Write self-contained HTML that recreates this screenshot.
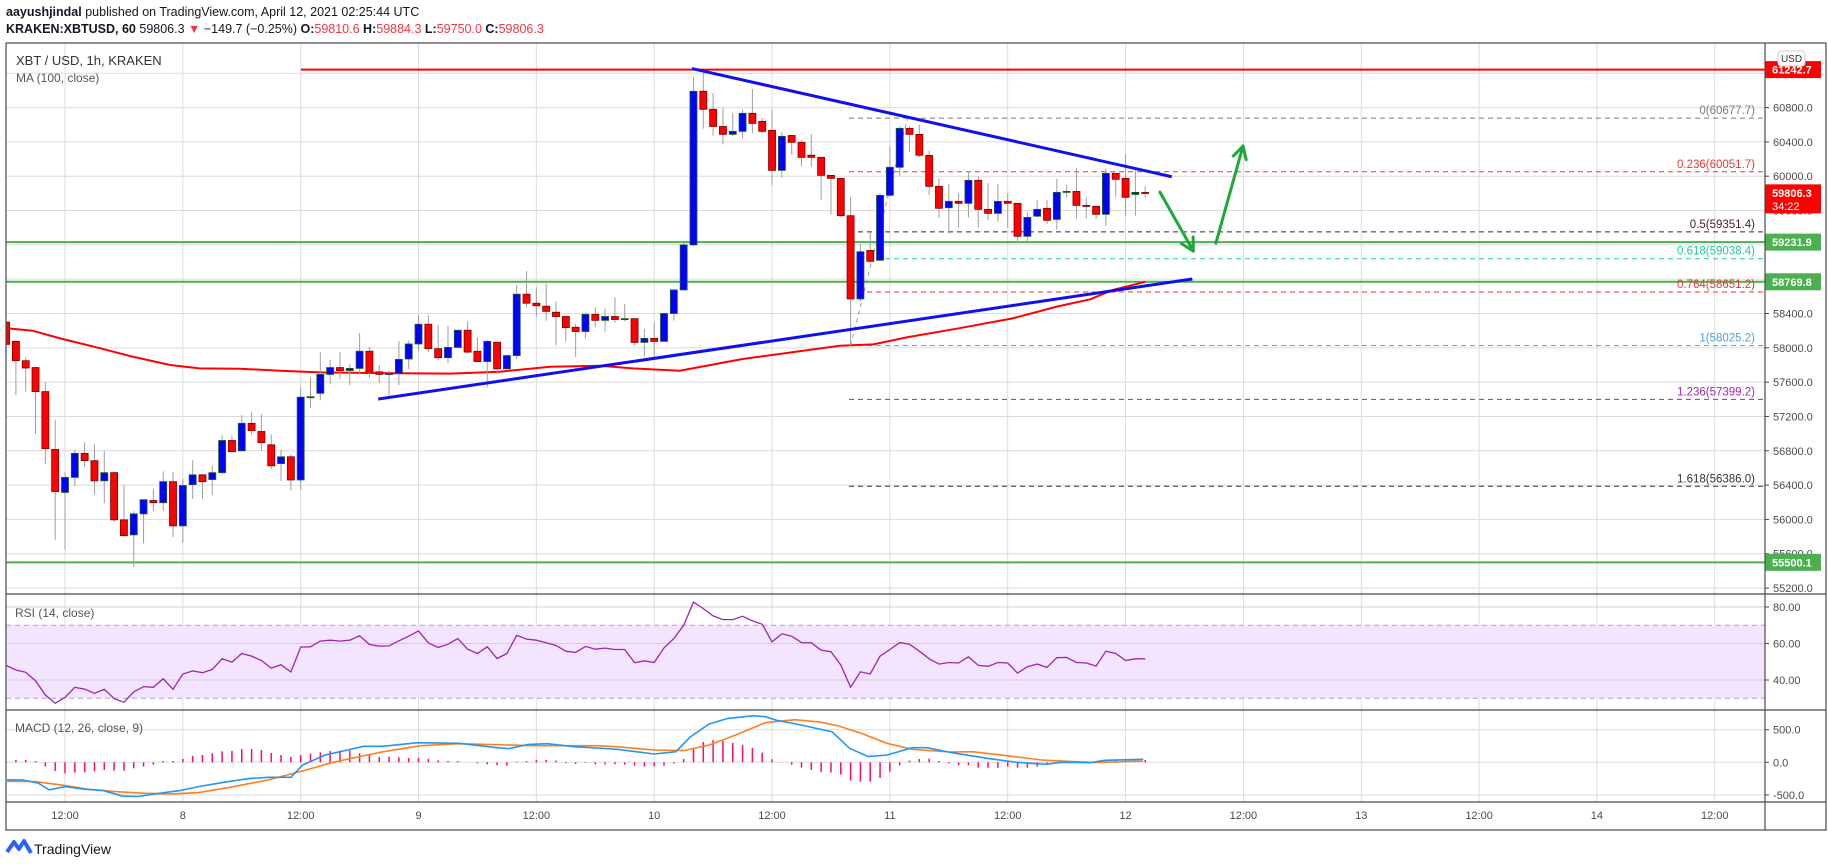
<!DOCTYPE html>
<html><head><meta charset="utf-8"><style>
html,body{margin:0;padding:0;background:#fff;}
body{width:1828px;height:867px;overflow:hidden;font-family:"Liberation Sans",sans-serif;}
#hdr1,#hdr2{position:absolute;left:6px;font-size:12.5px;color:#131722;white-space:nowrap;}
#hdr1{top:5px;}#hdr2{top:22px;}
.r{color:#f23645;}
svg{position:absolute;left:0;top:0;}
text{font-family:"Liberation Sans",sans-serif;}
</style></head><body>
<div id="hdr1"><b>aayushjindal</b> published on TradingView.com, April 12, 2021 02:25:44 UTC</div>
<div id="hdr2"><b>KRAKEN:XBTUSD, 60</b> 59806.3 <span class="r">▼</span> −149.7 (−0.25%) <b>O:</b><span class="r">59810.6</span> <b>H:</b><span class="r">59884.3</span> <b>L:</b><span class="r">59750.0</span> <b>C:</b><span class="r">59806.3</span></div>
<svg id="chart" width="1828" height="867" xmlns="http://www.w3.org/2000/svg">
<defs>
<clipPath id="cMain"><rect x="6" y="43" width="1759" height="551"/></clipPath>
<clipPath id="cRsi"><rect x="6" y="594" width="1759" height="116"/></clipPath>
<clipPath id="cMacd"><rect x="6" y="710" width="1759" height="92"/></clipPath>
</defs>
<g id="grid"></g>
<g id="main" clip-path="url(#cMain)"></g>
<g id="rsi" clip-path="url(#cRsi)"></g>
<g id="macd" clip-path="url(#cMacd)"></g>
<g id="axes"></g>
<g id="frame" fill="none" stroke="#4a4a4a" stroke-width="1.2">
<rect x="6" y="43" width="1820" height="787"/>
<line x1="1765" y1="43" x2="1765" y2="830"/>
<line x1="6" y1="594" x2="1826" y2="594"/>
<line x1="6" y1="710" x2="1826" y2="710"/>
<line x1="6" y1="802" x2="1826" y2="802"/>
</g>
<g>
<path d="M7 852 L14 842 L19 849 L24 841 L31 853" fill="none" stroke="#2962ff" stroke-width="4" stroke-linejoin="round"/>
<text x="34" y="854" font-size="14" fill="#131722">TradingView</text>
</g>
</svg>
<script>
// ---------- data ----------
const candleStartHour = 6; // Apr 7 06:00, hours since Apr 7 00:00
const opens  = [58300,58075,57850,57770,57490,56815,56315,56490,56770,56685,56450,56545,55995,55820,56065,56220,56195,56440,55925,56405,56520,56465,56545,56920,56800,57120,57025,56870,56650,56730,56460,57430,57470,57690,57770,57735,57760,57960,57720,57700,57700,57870,58045,58275,57990,57885,58005,58205,57960,57840,58065,57755,57910,58625,58520,58485,58415,58365,58240,58190,58390,58320,58365,58340,58340,58063,58110,58075,58400,58675,59200,60990,60780,60580,60488,60523,60733,60640,60535,60068,60475,60395,60245,60220,60010,59975,59540,58570,59135,59020,59777,60104,60558,60488,60243,59882,59633,59707,59684,59952,59614,59567,59707,59684,59300,59534,59626,59497,59823,59823,59660,59650,59556,60034,59975,59788,59810.6];
const highs  = [58300,58090,57890,57785,57600,57160,56555,56815,56900,56875,56800,56560,56400,56095,56230,56360,56560,56550,56470,56690,56520,56625,56980,56980,57215,57250,57225,56990,56815,56760,57535,57655,57950,57860,57950,57810,58173,58010,57800,57735,58080,58080,58385,58380,58270,58255,58205,58310,58120,58090,58065,57910,58730,58895,58705,58750,58545,58365,58280,58410,58470,58456,58590,58510,58340,58223,58300,58400,58675,59230,61160,61200,60970,60800,60740,60775,61015,60680,60780,60515,60480,60420,60490,60220,60010,59975,59760,59210,59370,59800,60350,60580,60580,60600,60300,59975,59910,59800,60060,60000,59920,59910,59800,59684,59580,59720,59720,59970,59900,60095,59760,59650,60090,60034,60260,60090,59884.3];
const lows   = [58040,57450,57490,56995,56645,55760,55650,56390,56610,56290,56190,55970,55810,55445,55720,56100,56100,55795,55725,56240,56240,56280,56520,56780,56800,56990,56800,56585,56450,56340,56345,57300,57390,57580,57640,57567,57690,57650,57590,57445,57565,57750,57965,57955,57860,57820,58005,57935,57840,57540,57695,57755,57870,58470,58365,58315,58025,58070,57895,58110,58245,58188,58293,58310,58025,57895,57895,58075,58317,58675,59190,60555,60470,60370,60470,60445,60505,60500,59900,59985,60250,60120,60110,59725,59550,59520,58020,58540,58990,59020,59770,60000,60280,60220,59780,59515,59330,59400,59520,59400,59490,59470,59400,59230,59240,59520,59440,59375,59750,59505,59510,59500,59420,59760,59540,59540,59750];
const closes = [58040,57850,57765,57490,56825,56325,56490,56770,56685,56450,56545,55995,55810,56065,56230,56195,56440,55925,56395,56520,56440,56545,56920,56790,57120,57035,56895,56625,56730,56460,57425,57430,57690,57770,57735,57760,57960,57720,57690,57700,57865,58045,58275,57990,57885,58005,58205,57950,57840,58075,57755,57910,58625,58520,58490,58425,58365,58235,58190,58390,58320,58365,58330,58340,58063,58110,58075,58400,58675,59200,60990,60780,60580,60488,60523,60733,60616,60523,60068,60465,60395,60220,60220,60010,59975,59540,58570,59120,59008,59777,60104,60558,60488,60245,59882,59626,59707,59684,59952,59614,59567,59707,59684,59300,59520,59614,59486,59812,59823,59660,59650,59556,60034,59964,59754,59812,59806.3];
const maHours = [6.1,8.7,11.5,15.6,18.6,22.7,25.7,29.8,33.9,38,46.1,51.2,56.3,61.4,66.5,69.8,74.6,81,90.9,94.3,97.7,102.8,108.5,113,116.4,118.7,122];
const maValues = [58227,58200,58110,57994,57905,57800,57760,57757,57733,57714,57703,57699,57722,57780,57792,57760,57733,57870,58025,58040,58122,58223,58343,58480,58565,58674,58770];
const rsiValues = [48,45.5,44.2,39.6,31.8,27.3,30.5,36,35,32.7,34.9,29.8,27.8,33.5,36.4,36,40.7,34.9,43.3,45,44,45.8,51.6,49.8,54.5,53.1,50.7,46.5,48.4,44.4,58,58.2,61.3,61.8,61.3,61.8,64.2,59.5,58.5,58.7,61.5,64,66.9,60.4,57.8,59.6,62.7,56.9,54.5,58.2,51.8,54.5,64.5,62.4,61.8,60.4,58.9,55.8,55.1,58.4,56.9,57.5,56.7,56.7,49.5,50.5,49.6,57.6,62.7,70,82.7,79.1,75.1,73.1,73.1,74.9,72.4,70.5,60.9,65.3,64,60.5,60.4,56.4,55.5,48.2,36,44.5,43.3,53.1,56.7,60.5,59.6,55.8,51.6,48.7,49.6,49.3,52.7,48,47.5,49.6,49.3,43.8,47.3,48.7,46.9,52.2,52.4,49.6,49.3,47.6,55.8,54.5,50.7,51.6,51.6];
const histValues = [20,36,36,20,-66,-133,-168,-158,-153,-138,-117,-128,-128,-92,-66,-36,20,20,51,97,112,138,168,173,204,204,189,143,112,82,112,133,153,173,179,179,138,122,82,87,77,66,66,51,31,20,20,0,-15,-31,-46,-51,10,20,36,36,26,-15,-26,-10,-31,-31,-31,-36,-51,-66,-61,-51,-20,51,219,311,342,326,296,265,219,148,46,5,-36,-82,-117,-148,-158,-189,-280,-296,-296,-240,-143,-46,26,51,56,20,-20,-46,-46,-82,-82,-82,-66,-82,-82,-66,-26,-10,0,0,15,0,20,36,26,26,36];
const macdHours = [6.1,7.7,9.3,10.4,12,14,15.9,17.9,19.4,21.7,23.7,25.6,28,30.7,32.7,35,36.2,38.5,40.5,42.4,44.4,47.9,52.1,56,57.2,59.2,61.1,63.8,66.2,68.2,72,74.2,75.7,77.6,79.5,82.1,83.3,84.4,87,90.1,91.9,93.8,95.7,98.3,99.8,102.1,105.9,108.9,111.9,113.4,116.4,117.9,121.8];
const macdValues = [-270,-270,-321,-423,-372,-413,-434,-520,-525,-474,-434,-372,-311,-250,-230,-230,-41,112,179,245,245,301,291,224,209,275,286,240,219,199,128,163,393,587,673,714,699,648,571,469,214,87,112,224,224,153,61,0,-31,0,-5,31,46];
const signalHours = [6.1,8.9,11.6,14.3,17.1,20.2,22.9,25.6,28.8,32.7,36.6,39.3,42,44.4,48.2,52.1,56,59.9,66.2,68.2,72,75,77.6,80.3,83.3,86.3,88.9,90.8,93.1,95.7,98.3,102.1,104.4,107.8,111.5,116.8,121.8];
const signalValues = [-291,-296,-347,-413,-450,-475,-485,-464,-383,-270,-117,0,87,163,255,286,270,255,255,240,189,179,265,418,607,653,617,556,444,291,199,158,163,102,36,-5,20];
const priceTicks = [61200,60800,60400,60000,59600,59200,58800,58400,58000,57600,57200,56800,56400,56000,55600,55200];
const timeTickHours = [12,24,36,48,60,72,84,96,108,120,132,144,156,168,180];
const timeTickLabels = ["12:00","8","12:00","9","12:00","10","12:00","11","12:00","12","12:00","13","12:00","14","12:00"];
const rsiTicks = [80,60,40];
const macdTicks = [500,0,-500];
const fibNames = ["0","0.236","0.5","0.618","0.764","1","1.236","1.618"];
const fibPrices = [60677.7,60051.7,59351.4,59038.4,58651.2,58025.2,57399.2,56386.0];
const fibColors = ["#787b86","#e53935","#4a1a2c","#22c7a0","#e53935","#4aa3df","#9c27b0","#333333"];
const hLevels = [61242.7,59231.9,58769.8,55500.1];
const hColors = ["#ff0000","#4caf50","#4caf50","#4caf50"];
const resistanceLine = {h:[75.85,124.7], p:[61255,59994]};
const supportLine = {h:[43.9,126.8], p:[57403,58802]};
const fibTrend = {h:[92,97.8], p:[58025.2,60677.7]};
const arrowDown = {h:[123.5,126.9], p:[59815,59128]};
const arrowUp = {h:[129.2,131.96], p:[59221,60352]};

// ---------- scales ----------
const xT = t => 65 + (t-12)*9.82;
const yP = p => 69.6 + (61242.7-p)*0.0858;
const yR = v => 607 + (80-v)*1.825;
const yM = v => 762.3 - v*0.0652;
const NS = "http://www.w3.org/2000/svg";
function mk(tag, attrs, parent){ const e=document.createElementNS(NS,tag); for(const k in attrs) e.setAttribute(k,attrs[k]); parent.appendChild(e); return e; }
const G = id => document.getElementById(id);
const grid=G('grid'), main=G('main'), rsi=G('rsi'), macd=G('macd'), axes=G('axes');

// grid
timeTickHours.forEach((h,i)=>{
  const l=mk('line',{x1:xT(h),x2:xT(h),y1:43,y2:802,stroke:'#dcdcdc','stroke-width':1},grid);
  
  
  const t=mk('text',{x:xT(h),y:819,'font-size':11,fill:'#4a4a4a','text-anchor':'middle'},axes);
  t.textContent=timeTickLabels[i];
  
  
});
priceTicks.forEach(p=>{
  const y=yP(p);
  const l=mk('line',{x1:6,x2:1765,y1:y,y2:y,stroke:'#dcdcdc','stroke-width':1},grid);
  
  
  mk('line',{x1:1765,x2:1769,y1:y,y2:y,stroke:'#4a4a4a'},axes);
  const t=mk('text',{x:1773,y:y+4,'font-size':11,fill:'#4a4a4a'},axes);
  t.textContent=p.toFixed(1);
  
  
});
// rsi band
const band=mk('rect',{x:6,y:yR(70),width:1759,height:yR(30)-yR(70),fill:'#f3e5ff'},rsi);


[70,30].forEach(v=>{mk('line',{x1:6,x2:1765,y1:yR(v),y2:yR(v),stroke:'#b39ddb','stroke-dasharray':'5,4'},rsi);});
rsiTicks.forEach(v=>{
  mk('line',{x1:6,x2:1765,y1:yR(v),y2:yR(v),stroke:'#d8c8e8'},rsi);
  mk('line',{x1:1765,x2:1769,y1:yR(v),y2:yR(v),stroke:'#4a4a4a'},axes);
  const t=mk('text',{x:1773,y:yR(v)+4,'font-size':11,fill:'#4a4a4a'},axes);
  t.textContent=v.toFixed(2);
  
  
});
macdTicks.forEach(v=>{
  mk('line',{x1:6,x2:1765,y1:yM(v),y2:yM(v),stroke:'#dcdcdc'},macd);
  mk('line',{x1:1765,x2:1769,y1:yM(v),y2:yM(v),stroke:'#4a4a4a'},axes);
  const t=mk('text',{x:1773,y:yM(v)+4,'font-size':11,fill:'#4a4a4a'},axes);
  t.textContent=(v<0?'-':'')+Math.abs(v).toFixed(1);
  
  
});

// horizontal levels
hLevels.forEach((p,i)=>{
  const x1 = i===0 ? 301 : 6;
  const l=mk('line',{x1:x1,x2:1765,y1:yP(p),y2:yP(p),stroke:hColors[i],'stroke-width':2},main);
  
  
});
// fib
fibPrices.forEach((p,i)=>{
  const l=mk('line',{x1:849,x2:1765,y1:yP(p),y2:yP(p),stroke:fibColors[i],'stroke-width':1,'stroke-dasharray':'5,4'},main);
  
  
  const t=mk('text',{x:1755,y:yP(p)-4,'font-size':11.5,fill:fibColors[i],'text-anchor':'end'},main);
  t.textContent=fibNames[i]+'('+p.toFixed(1)+')';
  
  
});
const ft=mk('line',{x1:xT(fibTrend.h[0]),y1:yP(fibTrend.p[0]),x2:xT(fibTrend.h[1]),y2:yP(fibTrend.p[1]),stroke:'#999','stroke-dasharray':'4,4'},main);



// MA
let d='';
maHours.forEach((h,i)=>{ d+=(i?'L':'M')+xT(h).toFixed(1)+' '+yP(maValues[i]).toFixed(1); });
const ma=mk('path',{d:d,fill:'none',stroke:'#ff0000','stroke-width':2},main);



// candles
opens.forEach((o,i)=>{
  const t=candleStartHour+i, x=xT(t), c=closes[i], up=c>=o;
  const g=mk('g',{},main);
  
  
  mk('line',{x1:x,x2:x,y1:yP(highs[i]),y2:yP(lows[i]),stroke:'#9e9e9e','stroke-width':1},g);
  const top=yP(Math.max(o,c)), bot=yP(Math.min(o,c));
  mk('rect',{x:x-3.5,y:top,width:7,height:Math.max(1,bot-top),fill:up?'#0000ff':'#ff0000',stroke:up?'#1b5e20':'#7f0000','stroke-width':0.8},g);
});

// trend lines
[[resistanceLine,'resistance-trendline'],[supportLine,'support-trendline']].forEach(([L,n])=>{
  const l=mk('line',{x1:xT(L.h[0]),y1:yP(L.p[0]),x2:xT(L.h[1]),y2:yP(L.p[1]),stroke:'#1010ee','stroke-width':3},main);
  
  
});
// arrows
[[arrowDown,'arrow-down'],[arrowUp,'arrow-up']].forEach(([A,n])=>{
  const x1=xT(A.h[0]),y1=yP(A.p[0]),x2=xT(A.h[1]),y2=yP(A.p[1]);
  const g=mk('g',{stroke:'#1fa83a','stroke-width':3,fill:'none','stroke-linecap':'round'},main);
  
  
  mk('line',{x1:x1,y1:y1,x2:x2,y2:y2},g);
  const a=Math.atan2(y2-y1,x2-x1), L=14;
  [0.5,-0.5].forEach(s=>{ mk('line',{x1:x2,y1:y2,x2:x2-L*Math.cos(a+s),y2:y2-L*Math.sin(a+s)},g); });
});

// RSI line
d='';
rsiValues.forEach((v,i)=>{ d+=(i?'L':'M')+xT(candleStartHour+i).toFixed(1)+' '+yR(v).toFixed(1); });
const rl=mk('path',{d:d,fill:'none',stroke:'#9c27b0','stroke-width':1.3},rsi);



// MACD
histValues.forEach((v,i)=>{
  const x=xT(candleStartHour+i);
  const b=mk('line',{x1:x,x2:x,y1:yM(0),y2:yM(v),stroke:'#ff0a6c','stroke-width':1.5},macd);
  
  
});
d='';
signalHours.forEach((h,i)=>{ d+=(i?'L':'M')+xT(h).toFixed(1)+' '+yM(signalValues[i]).toFixed(1); });
const sl=mk('path',{d:d,fill:'none',stroke:'#ff7f1e','stroke-width':1.6},macd);


d='';
macdHours.forEach((h,i)=>{ d+=(i?'L':'M')+xT(h).toFixed(1)+' '+yM(macdValues[i]).toFixed(1); });
const ml=mk('path',{d:d,fill:'none',stroke:'#2196f3','stroke-width':1.6},macd);



// pane labels
[['XBT / USD, 1h, KRAKEN',16,65,13,'#333','symbol-title'],['MA (100, close)',16,82,12,'#555','ma-legend'],['RSI (14, close)',15,617,12,'#555','rsi-legend'],['MACD (12, 26, close, 9)',15,732,12,'#555','macd-legend']].forEach(a=>{
  const t=mk('text',{x:a[1],y:a[2],'font-size':a[3],fill:a[4]},axes);
  t.textContent=a[0];
  
  
});

// price badges
function badge(p,color,name,extra){
  const y=yP(p);
  const g=mk('g',{},axes);
  
  
  mk('rect',{x:1765,y:y-8.5,width:56,height:extra?29:17,fill:color},g);
  const t=mk('text',{x:1772,y:y+4,'font-size':11,'font-weight':'bold',fill:'#fff'},g);
  t.textContent=p.toFixed(1);
  if(extra){ const t2=mk('text',{x:1772,y:y+17,'font-size':11,fill:'#fff'},g); t2.textContent=extra; }
}
hLevels.forEach((p,i)=>badge(p,hColors[i],'price-badge'));
badge(59806.3,'#ff0000','last-price-badge','34:22');
const usd=mk('g',{},axes);


mk('rect',{x:1778,y:51,width:27,height:15,rx:3,fill:'#fff',stroke:'#ccc'},usd);
const ut=mk('text',{x:1791.5,y:62,'font-size':10,fill:'#333','text-anchor':'middle'},usd);
ut.textContent='USD';
</script>
</body></html>
